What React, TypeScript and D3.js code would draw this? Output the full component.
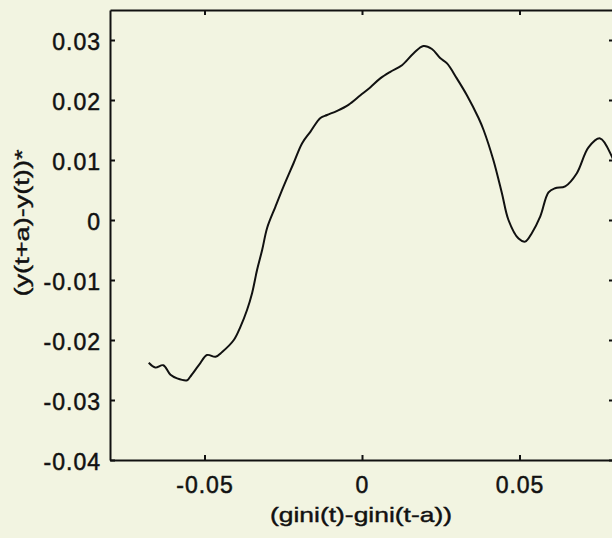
import React, { useRef, useEffect } from "react";
import * as d3 from "d3";

// curve: (gini(t)-gini(t-a)) vs (y(t+a)-y(t))*
const giniDiff = [
  -0.0677, -0.0656, -0.0631, -0.0608, -0.0587, -0.0555, -0.0545, -0.0518,
  -0.0492, -0.0465, -0.0444, -0.0407, -0.0386, -0.0365, -0.0349, -0.0333,
  -0.0317, -0.0301, -0.0275, -0.0249, -0.0217, -0.019, -0.0164, -0.0132,
  -0.0111, -0.0079, -0.0043, -0.0005, 0.0026, 0.0058, 0.009, 0.0127, 0.0164,
  0.0195, 0.0222, 0.0248, 0.027, 0.0301, 0.0333, 0.037, 0.0386, 0.0417,
  0.0444, 0.0465, 0.0497, 0.0518, 0.0539, 0.0566, 0.0592, 0.0613, 0.0645,
  0.0682, 0.0719, 0.0756, 0.0793, 0.081,
];
const yDiff = [
  -0.0238, -0.0246, -0.0242, -0.0258, -0.0264, -0.0267, -0.0261, -0.0242,
  -0.0225, -0.0228, -0.022, -0.02, -0.0178, -0.015, -0.0122, -0.0083,
  -0.005, -0.0013, 0.0022, 0.0056, 0.0095, 0.0128, 0.0147, 0.017, 0.0175,
  0.0182, 0.0192, 0.0208, 0.0221, 0.0236, 0.0247, 0.0258, 0.0278, 0.029,
  0.0285, 0.027, 0.0261, 0.0236, 0.0208, 0.017, 0.015, 0.01, 0.0045, 0,
  -0.0031, -0.0036, -0.0022, 0.0006, 0.0046, 0.0053, 0.0056, 0.0078, 0.0121,
  0.0136, 0.0106, 0.008,
];

const xTicks = [-0.05, 0, 0.05];
const yTicks = [-0.04, -0.03, -0.02, -0.01, 0, 0.01, 0.02, 0.03];
const xLabel = "(gini(t)-gini(t-a))";
const yLabel = "(y(t+a)-y(t))*";

const width = 612;
const height = 538;
const left = 110;
const right = 614;
const top = 10;
const bottom = 460;
const font = "'Liberation Sans', Arial, Helvetica, sans-serif";

const fmt = (d: number) => (d === 0 ? "0" : d3.format(".2f")(d).replace("−", "-"));

const App = () => {
  const svgRef = useRef<SVGSVGElement>(null);

  useEffect(() => {
    const svg = d3.select(svgRef.current);
    svg.selectAll("*").remove();

    const x = d3.scaleLinear().domain([-0.08, 0.08]).range([left, right]);
    const y = d3.scaleLinear().domain([-0.04, 0.035]).range([bottom, top]);

    svg.append("rect")
      .attr("width", width)
      .attr("height", height)
      .attr("fill", "#f2f4e1");

    svg.append("clipPath")
      .attr("id", "plotclip")
      .append("rect")
      .attr("x", left)
      .attr("y", top)
      .attr("width", right - left)
      .attr("height", bottom - top);

    const pts: [number, number][] = giniDiff.map((g, i) => [g, yDiff[i]]);
    const line = d3.line<[number, number]>()
      .x(d => x(d[0]))
      .y(d => y(d[1]))
      .curve(d3.curveCatmullRom);

    svg.append("path")
      .attr("clip-path", "url(#plotclip)")
      .attr("d", line(pts))
      .attr("fill", "none")
      .attr("stroke", "#111")
      .attr("stroke-width", 2)
      .attr("stroke-linejoin", "round");

    const styleAxis = (g: any) => {
      g.select(".domain").attr("stroke", "#111").attr("stroke-width", 2);
      g.selectAll(".tick line").attr("stroke", "#111").attr("stroke-width", 2);
      g.selectAll(".tick text")
        .attr("fill", "#111")
        .attr("stroke", "#111")
        .attr("stroke-width", 0.5)
        .style("font-family", font)
        .style("font-size", "23px")
        .style("letter-spacing", "1px");
    };

    // left axis with labels
    svg.append("g")
      .attr("transform", `translate(${left},0)`)
      .call(d3.axisLeft(y).tickValues(yTicks).tickSize(-5).tickSizeOuter(0).tickPadding(9).tickFormat(fmt as any))
      .call(styleAxis)
      .selectAll(".tick text")
      .attr("dy", "0.42em");

    // bottom axis with labels
    svg.append("g")
      .attr("transform", `translate(0,${bottom})`)
      .call(d3.axisBottom(x).tickValues(xTicks).tickSize(-5).tickSizeOuter(0).tickPadding(17).tickFormat(fmt as any))
      .call(styleAxis);

    // top and right box edges, ticks only
    svg.append("g")
      .attr("transform", `translate(0,${top})`)
      .call(d3.axisTop(x).tickValues(xTicks).tickSize(-5).tickSizeOuter(0).tickFormat(() => ""))
      .call(styleAxis);

    svg.append("g")
      .attr("transform", `translate(${right},0)`)
      .call(d3.axisRight(y).tickValues(yTicks).tickSize(-5).tickSizeOuter(0).tickFormat(() => ""))
      .call(styleAxis);

    svg.append("text")
      .attr("x", (left + right) / 2 - 1)
      .attr("y", 522)
      .attr("text-anchor", "middle")
      .attr("textLength", 182)
      .attr("lengthAdjust", "spacingAndGlyphs")
      .style("font-family", font)
      .style("font-size", "21px")
      .attr("fill", "#111")
      .attr("stroke", "#111")
      .attr("stroke-width", 0.4)
      .text(xLabel);

    svg.append("text")
      .attr("transform", `translate(29,223) rotate(-90)`)
      .attr("text-anchor", "middle")
      .attr("textLength", 147)
      .attr("lengthAdjust", "spacingAndGlyphs")
      .style("font-family", font)
      .style("font-size", "21px")
      .attr("fill", "#111")
      .attr("stroke", "#111")
      .attr("stroke-width", 0.4)
      .text(yLabel);
  }, []);

  return (
    <div>
      <svg
        ref={svgRef}
        width={width}
        height={height}
        style={{ position: "absolute", left: 0, top: 0 }}
      ></svg>
    </div>
  );
};

export default App;
